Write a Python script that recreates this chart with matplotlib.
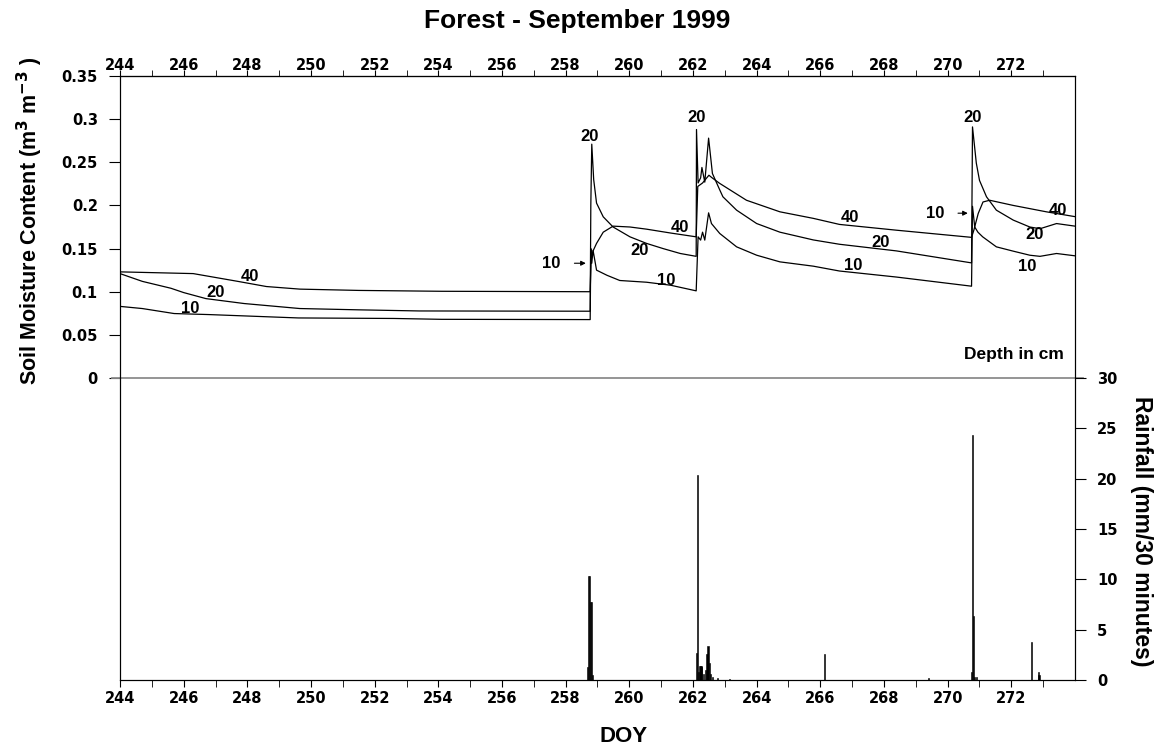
import numpy as np
import matplotlib
matplotlib.use('Agg')
import matplotlib.pyplot as plt

# soil moisture (m3 m-3), day of year
doy40 = [244.0, 246.3, 247.7, 248.6, 249.65, 251.5, 254.1, 258.77, 258.8, 258.87, 258.97,
         259.18, 259.49, 260.02, 260.54, 261.3, 262.1, 262.15, 262.3, 262.5, 262.6, 262.84,
         263.68, 264.73, 265.78, 266.6, 268.39, 270.75, 270.82, 270.96, 271.11, 271.32,
         272.06, 273.1, 274.0]
sm40 = [0.123, 0.121, 0.112, 0.106, 0.103, 0.1015, 0.1005, 0.100, 0.14, 0.148, 0.156,
        0.169, 0.176, 0.175, 0.1725, 0.168, 0.1636, 0.222, 0.226, 0.235, 0.232, 0.2255,
        0.206, 0.1926, 0.185, 0.178, 0.1713, 0.163, 0.171, 0.1907, 0.204, 0.206,
        0.200, 0.1926, 0.187]

doy20 = [244.0, 244.7, 245.6, 246.0, 246.7, 247.9, 249.65, 251.5, 253.4, 258.77, 258.79,
         258.82, 258.88, 258.97, 259.18, 259.49, 260.02, 260.54, 261.06, 261.6, 262.1,
         262.11, 262.16, 262.24, 262.28, 262.37, 262.49, 262.61, 262.84, 262.94, 263.37,
         264.0, 264.73, 265.78, 266.6, 268.39, 270.75, 270.78, 270.9, 271.0, 271.22,
         271.53, 272.06, 272.58, 272.9, 273.42, 274.0]
sm20 = [0.121, 0.112, 0.104, 0.099, 0.092, 0.0863, 0.0805, 0.079, 0.0777, 0.0774, 0.20,
        0.271, 0.23, 0.2027, 0.1868, 0.175, 0.1636, 0.156, 0.150, 0.1443, 0.141,
        0.288, 0.226, 0.232, 0.244, 0.227, 0.278, 0.237, 0.218, 0.21, 0.1945,
        0.179, 0.169, 0.160, 0.155, 0.1473, 0.1334, 0.291, 0.249, 0.229, 0.21,
        0.1945, 0.183, 0.175, 0.173, 0.179, 0.176]

doy10 = [244.0, 244.7, 245.7, 246.8, 249.6, 252.6, 254.1, 258.77, 258.79, 258.82, 258.86,
         258.97, 259.3, 259.7, 260.54, 261.3, 262.1, 262.16, 262.24, 262.3, 262.37, 262.49,
         262.58, 262.84, 263.37, 264.0, 264.73, 265.78, 266.6, 268.39, 270.75, 270.78,
         270.85, 270.95, 271.1, 271.53, 272.06, 272.58, 272.9, 273.42, 274.0]
sm10 = [0.083, 0.0805, 0.0747, 0.0735, 0.0696, 0.069, 0.068, 0.0677, 0.15, 0.133, 0.148,
        0.125, 0.119, 0.113, 0.111, 0.1075, 0.101, 0.1636, 0.1598, 0.169, 0.1598, 0.1914,
        0.179, 0.1675, 0.152, 0.1423, 0.1346, 0.1296, 0.124, 0.117, 0.1064, 0.199,
        0.175, 0.169, 0.1636, 0.152, 0.147, 0.1423, 0.141, 0.1443, 0.1416]

# rainfall (mm / 30 minutes)
rain_doy = [258.68, 258.71, 258.74, 258.77, 258.80, 258.83,
            262.10, 262.13, 262.16, 262.22, 262.25, 262.28, 262.34, 262.40, 262.44,
            262.47, 262.51, 262.55, 262.60, 262.78, 263.14,
            266.14, 269.39,
            270.74, 270.77, 270.80, 270.84, 270.90, 272.62, 272.84, 272.87]
rain_mm = [1.3, 10.3, 10.3, 7.7, 7.7, 0.5,
           2.7, 20.4, 0.8, 1.4, 1.4, 1.3, 0.6, 1.0, 2.6,
           3.4, 1.65, 0.6, 0.3, 0.2, 0.1,
           2.6, 0.15,
           0.8, 24.3, 6.4, 0.3, 0.3, 3.8, 0.76, 0.5]

sm_ticks = [0, 0.05, 0.1, 0.15, 0.2, 0.25, 0.3, 0.35]
sm_ticklabels = ['0', '0.05', '0.1', '0.15', '0.2', '0.25', '0.3', '0.35']
rain_ticks = [0, 5, 10, 15, 20, 25, 30]
doy_major = list(range(244, 273, 2))

# curve labels: (text, doy, value)
curve_labels = [('40', 248.08, 0.118), ('20', 247.0, 0.099), ('10', 246.2, 0.081),
                ('20', 258.76, 0.280), ('40', 261.59, 0.174), ('20', 260.31, 0.148),
                ('10', 261.15, 0.1125),
                ('20', 262.11, 0.302), ('40', 266.93, 0.186), ('20', 267.9, 0.157),
                ('10', 267.02, 0.1305),
                ('20', 270.78, 0.302), ('40', 273.47, 0.1945), ('20', 272.74, 0.1667),
                ('10', 272.5, 0.1288)]

tickfont = {'family': 'DejaVu Sans', 'weight': 'bold', 'size': 10.5}
labfont = {'family': 'Liberation Sans', 'weight': 'bold'}

fig = plt.figure(figsize=(11.61, 7.51), dpi=100)
ax = fig.add_axes([120/1161, 71/751, 955/1161, 604/751])
ax2 = ax.twinx()

ax.plot(doy40, sm40, color='black', lw=0.9)
ax.plot(doy20, sm20, color='black', lw=0.9)
ax.plot(doy10, sm10, color='black', lw=0.9)
ax.plot([243.75, 274.25], [0, 0], color='#8c8c8c', lw=1.3, clip_on=False)

ax2.bar(rain_doy, rain_mm, width=0.035, color='black', edgecolor='black', lw=0.4)

for t, d, v in curve_labels:
    ax.text(d, v, t, ha='center', va='center', fontsize=12, **labfont)

# arrows pointing at the 10 cm curve
for d0, d1, v in [(257.55, 258.72, 0.133), (269.6, 270.72, 0.191)]:
    ax.annotate('10', xy=(d1, v), xytext=(d0, v), ha='center', va='center', fontsize=12,
                arrowprops=dict(arrowstyle='-|>', color='black', lw=0.8,
                                mutation_scale=7, shrinkA=8), **labfont)
ax.text(273.65, 0.027, 'Depth in cm', ha='right', va='center', fontsize=12.5, **labfont)

ax.set_xlim(244, 274)
ax.set_ylim(-0.35, 0.35)
ax2.set_ylim(0, 60)

ax.set_xticks(doy_major)
ax.set_xticks(np.arange(245, 274, 1), minor=True)
ax.set_xticklabels([str(d) for d in doy_major], fontdict=tickfont)
ax.set_yticks(sm_ticks)
ax.set_yticklabels(sm_ticklabels, fontdict=tickfont)
ax2.set_yticks(rain_ticks)
ax2.set_yticklabels([str(r) for r in rain_ticks], fontdict=tickfont)

ax.tick_params(axis='x', which='both', direction='out', length=5, pad=3)
ax.tick_params(axis='y', direction='out', length=8, pad=8)
ax2.tick_params(axis='y', direction='out', length=8, pad=8)

# top axis with its own labels
top = ax.secondary_xaxis('top')
top.set_xticks(doy_major)
top.set_xticks(np.arange(245, 274, 1), minor=True)
top.set_xticklabels([str(d) for d in doy_major], fontdict=tickfont)
top.tick_params(axis='x', which='both', direction='out', length=4, pad=-2)

fig.text(30/1161, 1 - 221/751, 'Soil Moisture Content (m$^\\mathbf{3}$ m$^\\mathbf{-3}$ )',
         rotation=90, ha='center', va='center', fontsize=15.5, **labfont)
fig.text(1142/1161, 1 - 531/751, 'Rainfall (mm/30 minutes)', rotation=-90,
         ha='center', va='center', fontsize=16.5, **labfont)
fig.text(624/1161, 1 - 737/751, 'DOY', ha='center', va='center', fontsize=16, **labfont)
fig.text(577/1161, 1 - 21/751, 'Forest - September 1999', ha='center', va='center',
         fontsize=19, **labfont)

fig.savefig('out.png', dpi=100)
